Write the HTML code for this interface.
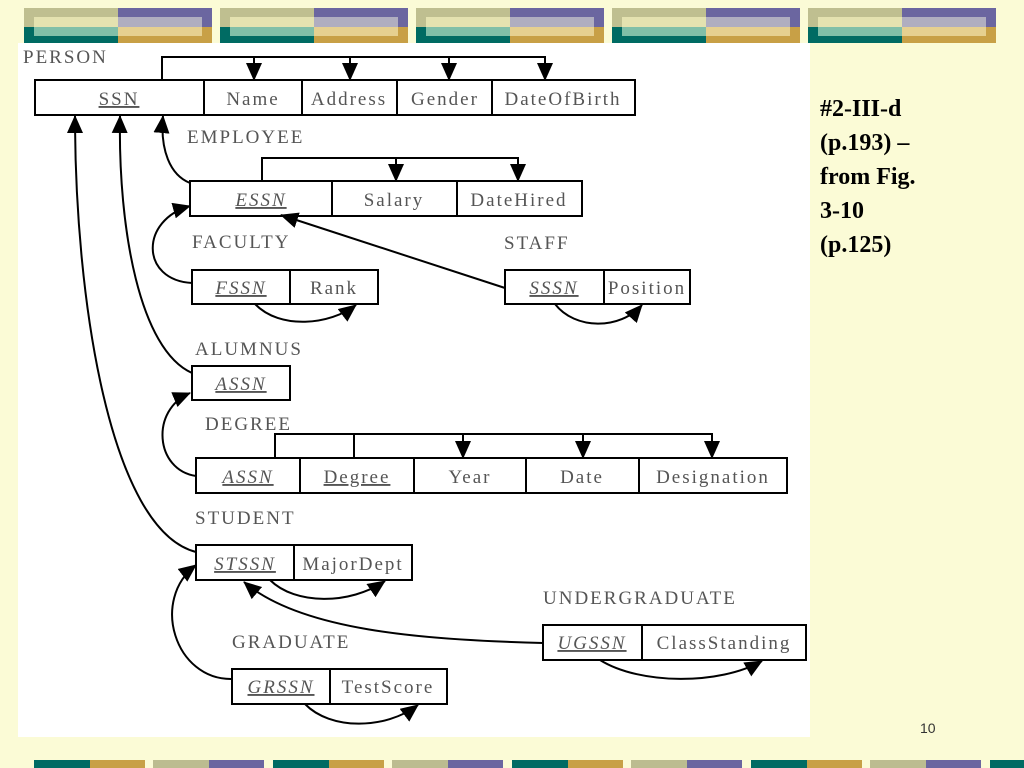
<!DOCTYPE html>
<html><head><meta charset="utf-8"><style>
body{margin:0;width:1024px;height:768px;background:#fbfbd6;position:relative;overflow:hidden;font-family:"Liberation Serif",serif}
.tile{position:absolute;top:8px;width:188px;height:35px}
.tile div{position:absolute}
.side{position:absolute;left:820px;top:92px;font-weight:bold;font-size:24px;line-height:34px;color:#000}
</style></head><body>
<div style="position:absolute;left:18px;top:43px;width:792px;height:694px;background:#fff"></div>
<svg style="position:absolute;left:0;top:0" width="1024" height="768" font-family="Liberation Serif, serif" font-size="19" letter-spacing="2" fill="#555">
<defs><marker id="b" markerWidth="18" markerHeight="16" refX="17" refY="8" orient="auto" markerUnits="userSpaceOnUse" viewBox="0 0 18 16"><path d="M0,0 L18,8 L0,16z" fill="#000"/></marker></defs>
<g stroke="#000" stroke-width="2" fill="#fff">
<rect x="35" y="80" width="600" height="35"/><path d="M204 80V115M302 80V115M397 80V115M492 80V115" />
<rect x="190" y="181" width="392" height="35"/><path d="M332 181V216M457 181V216"/>
<rect x="192" y="270" width="186" height="34"/><path d="M290 270V304"/>
<rect x="505" y="270" width="185" height="34"/><path d="M604 270V304"/>
<rect x="192" y="366" width="98" height="34"/>
<rect x="196" y="458" width="591" height="35"/><path d="M300 458V493M414 458V493M526 458V493M639 458V493"/>
<rect x="196" y="545" width="216" height="35"/><path d="M294 545V580"/>
<rect x="543" y="625" width="263" height="35"/><path d="M642 625V660"/>
<rect x="232" y="669" width="215" height="35"/><path d="M330 669V704"/>
</g>
<g stroke="#000" stroke-width="2" fill="none" marker-end="url(#b)">
<path d="M162 80V57H545V80" marker-end="none"/>
<path d="M254 57V80"/><path d="M350 57V80"/><path d="M449 57V80"/><path d="M545 57V80"/>
<path d="M262 181V158H518V181" marker-end="none"/>
<path d="M396 158V181"/><path d="M518 158V181"/>
<path d="M275 458V434H712V458" marker-end="none"/><path d="M354 434V458" marker-end="none"/>
<path d="M463 434V458"/><path d="M583 434V458"/><path d="M712 434V458"/>
<path d="M190 183C170 175 160 150 163 116"/>
<path d="M192 283C140 280 140 220 190 206"/>
<path d="M255 304C280 330 330 325 356 305"/>
<path d="M505 288L281 215"/>
<path d="M555 304C575 330 620 330 642 305"/>
<path d="M192 373C140 350 118 230 120 116"/>
<path d="M196 476C155 470 150 410 190 393"/>
<path d="M196 552C110 530 75 300 75 116"/>
<path d="M270 580C295 605 350 605 385 581"/>
<path d="M543 643C420 640 300 630 244 582"/>
<path d="M232 679C175 680 150 600 196 565"/>
<path d="M600 660C640 685 720 685 762 661"/>
<path d="M305 704C330 730 385 730 418 705"/>
</g>
<g>
<text x="23" y="63">PERSON</text>
<text x="119" y="105" text-anchor="middle" text-decoration="underline">SSN</text>
<text x="253" y="105" text-anchor="middle">Name</text>
<text x="349" y="105" text-anchor="middle">Address</text>
<text x="445" y="105" text-anchor="middle">Gender</text>
<text x="563" y="105" text-anchor="middle">DateOfBirth</text>
<text x="187" y="143">EMPLOYEE</text>
<text x="261" y="206" text-anchor="middle" font-style="italic" text-decoration="underline">ESSN</text>
<text x="394" y="206" text-anchor="middle">Salary</text>
<text x="519" y="206" text-anchor="middle">DateHired</text>
<text x="192" y="248">FACULTY</text>
<text x="504" y="249">STAFF</text>
<text x="241" y="294" text-anchor="middle" font-style="italic" text-decoration="underline">FSSN</text>
<text x="334" y="294" text-anchor="middle">Rank</text>
<text x="554" y="294" text-anchor="middle" font-style="italic" text-decoration="underline">SSSN</text>
<text x="647" y="294" text-anchor="middle">Position</text>
<text x="195" y="355">ALUMNUS</text>
<text x="241" y="390" text-anchor="middle" font-style="italic" text-decoration="underline">ASSN</text>
<text x="205" y="430">DEGREE</text>
<text x="248" y="483" text-anchor="middle" font-style="italic" text-decoration="underline">ASSN</text>
<text x="357" y="483" text-anchor="middle" text-decoration="underline">Degree</text>
<text x="470" y="483" text-anchor="middle">Year</text>
<text x="582" y="483" text-anchor="middle">Date</text>
<text x="713" y="483" text-anchor="middle">Designation</text>
<text x="195" y="524">STUDENT</text>
<text x="245" y="570" text-anchor="middle" font-style="italic" text-decoration="underline">STSSN</text>
<text x="353" y="570" text-anchor="middle">MajorDept</text>
<text x="543" y="604">UNDERGRADUATE</text>
<text x="592" y="649" text-anchor="middle" font-style="italic" text-decoration="underline">UGSSN</text>
<text x="724" y="649" text-anchor="middle">ClassStanding</text>
<text x="232" y="648">GRADUATE</text>
<text x="281" y="693" text-anchor="middle" font-style="italic" text-decoration="underline">GRSSN</text>
<text x="388" y="693" text-anchor="middle">TestScore</text>
</g>
<text x="920" y="733" font-family="Liberation Sans, sans-serif" font-size="14" letter-spacing="0" fill="#333">10</text>
</svg>
<div class="side">#2-III-d<br>(p.193) –<br>from Fig.<br>3-10<br>(p.125)</div>
<div style="position:absolute;left:0;top:760px;width:1024px;height:8px">
<div style="position:absolute;left:34px;width:56px;height:8px;background:#006b63"></div><div style="position:absolute;left:90px;width:55px;height:8px;background:#c8a046"></div>
<div style="position:absolute;left:153px;width:56px;height:8px;background:#bcbc90"></div><div style="position:absolute;left:209px;width:55px;height:8px;background:#6b66a0"></div>
<div style="position:absolute;left:273px;width:56px;height:8px;background:#006b63"></div><div style="position:absolute;left:329px;width:55px;height:8px;background:#c8a046"></div>
<div style="position:absolute;left:392px;width:56px;height:8px;background:#bcbc90"></div><div style="position:absolute;left:448px;width:55px;height:8px;background:#6b66a0"></div>
<div style="position:absolute;left:512px;width:56px;height:8px;background:#006b63"></div><div style="position:absolute;left:568px;width:55px;height:8px;background:#c8a046"></div>
<div style="position:absolute;left:631px;width:56px;height:8px;background:#bcbc90"></div><div style="position:absolute;left:687px;width:55px;height:8px;background:#6b66a0"></div>
<div style="position:absolute;left:751px;width:56px;height:8px;background:#006b63"></div><div style="position:absolute;left:807px;width:55px;height:8px;background:#c8a046"></div>
<div style="position:absolute;left:870px;width:56px;height:8px;background:#bcbc90"></div><div style="position:absolute;left:926px;width:55px;height:8px;background:#6b66a0"></div>
<div style="position:absolute;left:990px;width:34px;height:8px;background:#006b63"></div>
</div>
<div class="tile" style="left:24px"><div style="left:0;top:0;width:94px;height:19px;background:#bfbf90"></div><div style="left:94px;top:0;width:94px;height:19px;background:#6b66a0"></div><div style="left:0;top:19px;width:94px;height:16px;background:#006b63"></div><div style="left:94px;top:19px;width:94px;height:16px;background:#c8a046"></div><div style="left:10px;top:9px;width:84px;height:10px;background:#e4e2b0"></div><div style="left:94px;top:9px;width:84px;height:10px;background:#b0aec0"></div><div style="left:10px;top:19px;width:84px;height:9px;background:#80bfa8"></div><div style="left:94px;top:19px;width:84px;height:9px;background:#e6d090"></div></div>
<div class="tile" style="left:220px"><div style="left:0;top:0;width:94px;height:19px;background:#bfbf90"></div><div style="left:94px;top:0;width:94px;height:19px;background:#6b66a0"></div><div style="left:0;top:19px;width:94px;height:16px;background:#006b63"></div><div style="left:94px;top:19px;width:94px;height:16px;background:#c8a046"></div><div style="left:10px;top:9px;width:84px;height:10px;background:#e4e2b0"></div><div style="left:94px;top:9px;width:84px;height:10px;background:#b0aec0"></div><div style="left:10px;top:19px;width:84px;height:9px;background:#80bfa8"></div><div style="left:94px;top:19px;width:84px;height:9px;background:#e6d090"></div></div>
<div class="tile" style="left:416px"><div style="left:0;top:0;width:94px;height:19px;background:#bfbf90"></div><div style="left:94px;top:0;width:94px;height:19px;background:#6b66a0"></div><div style="left:0;top:19px;width:94px;height:16px;background:#006b63"></div><div style="left:94px;top:19px;width:94px;height:16px;background:#c8a046"></div><div style="left:10px;top:9px;width:84px;height:10px;background:#e4e2b0"></div><div style="left:94px;top:9px;width:84px;height:10px;background:#b0aec0"></div><div style="left:10px;top:19px;width:84px;height:9px;background:#80bfa8"></div><div style="left:94px;top:19px;width:84px;height:9px;background:#e6d090"></div></div>
<div class="tile" style="left:612px"><div style="left:0;top:0;width:94px;height:19px;background:#bfbf90"></div><div style="left:94px;top:0;width:94px;height:19px;background:#6b66a0"></div><div style="left:0;top:19px;width:94px;height:16px;background:#006b63"></div><div style="left:94px;top:19px;width:94px;height:16px;background:#c8a046"></div><div style="left:10px;top:9px;width:84px;height:10px;background:#e4e2b0"></div><div style="left:94px;top:9px;width:84px;height:10px;background:#b0aec0"></div><div style="left:10px;top:19px;width:84px;height:9px;background:#80bfa8"></div><div style="left:94px;top:19px;width:84px;height:9px;background:#e6d090"></div></div>
<div class="tile" style="left:808px"><div style="left:0;top:0;width:94px;height:19px;background:#bfbf90"></div><div style="left:94px;top:0;width:94px;height:19px;background:#6b66a0"></div><div style="left:0;top:19px;width:94px;height:16px;background:#006b63"></div><div style="left:94px;top:19px;width:94px;height:16px;background:#c8a046"></div><div style="left:10px;top:9px;width:84px;height:10px;background:#e4e2b0"></div><div style="left:94px;top:9px;width:84px;height:10px;background:#b0aec0"></div><div style="left:10px;top:19px;width:84px;height:9px;background:#80bfa8"></div><div style="left:94px;top:19px;width:84px;height:9px;background:#e6d090"></div></div>
</body></html>
